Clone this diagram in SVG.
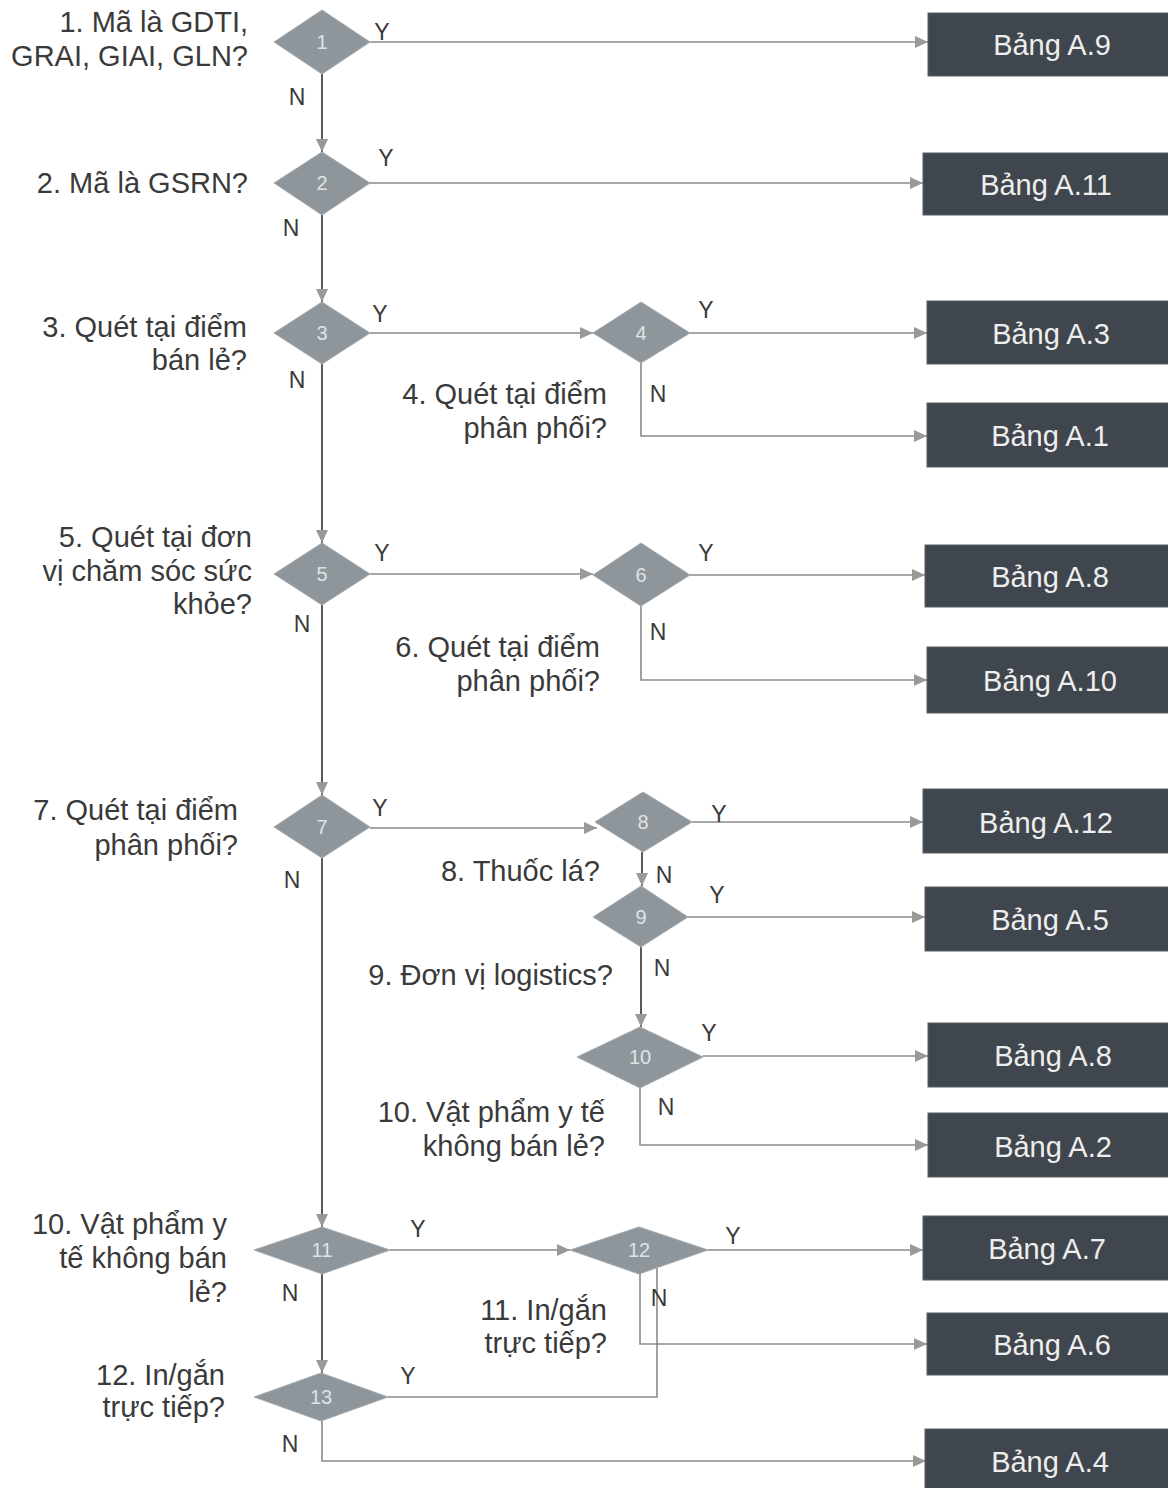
<svg xmlns="http://www.w3.org/2000/svg" width="1168" height="1488" viewBox="0 0 1168 1488">
<style>
.bg{fill:#ffffff}
.dia{fill:#8e969c;stroke:#a3aab0;stroke-width:1}
.num{font-family:"Liberation Sans",Arial,sans-serif;font-size:20px;fill:#dfe3e6;text-anchor:middle}
.box{fill:#40464d;stroke:#5a6066;stroke-width:1}
.bt{font-family:"Liberation Sans",Arial,sans-serif;font-size:29px;fill:#eeeeee;text-anchor:middle}
.lbl{font-family:"Liberation Sans",Arial,sans-serif;font-size:29px;fill:#3a3a3a;text-anchor:end}
.yn{font-family:"Liberation Sans",Arial,sans-serif;font-size:23px;fill:#3a3a3a;text-anchor:middle}
.ln{fill:none;stroke:#8a8a8a;stroke-width:1.6}
.main{fill:none;stroke:#5a5a5a;stroke-width:2}
</style>
<defs>
<marker id="arr" markerUnits="userSpaceOnUse" markerWidth="14" markerHeight="12" refX="13" refY="6" orient="auto">
<path d="M0,0 L13,6 L0,12 Z" fill="#999"/>
</marker>
</defs>
<rect class="bg" x="0" y="0" width="1168" height="1488"/>

<g id="connectors">
<path class="main" d="M322,74 V152" marker-end="url(#arr)"/>
<path class="main" d="M322,215 V302" marker-end="url(#arr)"/>
<path class="main" d="M322,364 V543" marker-end="url(#arr)"/>
<path class="main" d="M322,605 V795" marker-end="url(#arr)"/>
<path class="main" d="M322,858 V1227" marker-end="url(#arr)"/>
<path class="main" d="M322,1274 V1373" marker-end="url(#arr)"/>
<path class="ln" d="M322,1421 V1461 H926" marker-end="url(#arr)"/>
<path class="ln" d="M370,42 H928" marker-end="url(#arr)"/>
<path class="ln" d="M370,183 H923" marker-end="url(#arr)"/>
<path class="ln" d="M370,333 H593" marker-end="url(#arr)"/>
<path class="ln" d="M690,333 H927" marker-end="url(#arr)"/>
<path class="ln" d="M641,363 V436 H927" marker-end="url(#arr)"/>
<path class="ln" d="M370,574 H593" marker-end="url(#arr)"/>
<path class="ln" d="M690,575 H925" marker-end="url(#arr)"/>
<path class="ln" d="M641,605 V680 H927" marker-end="url(#arr)"/>
<path class="ln" d="M370,828 H597" marker-end="url(#arr)"/>
<path class="ln" d="M692,822 H923" marker-end="url(#arr)"/>
<path class="main" d="M642,852 V886" marker-end="url(#arr)"/>
<path class="ln" d="M688,917 H925" marker-end="url(#arr)"/>
<path class="main" d="M641,947 V1027" marker-end="url(#arr)"/>
<path class="ln" d="M703,1056 H928" marker-end="url(#arr)"/>
<path class="ln" d="M640,1088 V1145 H928" marker-end="url(#arr)"/>
<path class="ln" d="M390,1250 H570" marker-end="url(#arr)"/>
<path class="ln" d="M708,1250 H923" marker-end="url(#arr)"/>
<path class="ln" d="M640,1273 V1344 H927" marker-end="url(#arr)"/>
<path class="ln" d="M388,1397 H657 V1268"/>
</g>

<g id="yn-labels">
<text class="yn" x="382" y="40">Y</text>
<text class="yn" x="297" y="105">N</text>
<text class="yn" x="386" y="166">Y</text>
<text class="yn" x="291" y="236">N</text>
<text class="yn" x="380" y="322">Y</text>
<text class="yn" x="297" y="388">N</text>
<text class="yn" x="706" y="318">Y</text>
<text class="yn" x="658" y="402">N</text>
<text class="yn" x="382" y="561">Y</text>
<text class="yn" x="302" y="632">N</text>
<text class="yn" x="706" y="561">Y</text>
<text class="yn" x="658" y="640">N</text>
<text class="yn" x="380" y="816">Y</text>
<text class="yn" x="292" y="888">N</text>
<text class="yn" x="719" y="822">Y</text>
<text class="yn" x="664" y="883">N</text>
<text class="yn" x="717" y="903">Y</text>
<text class="yn" x="662" y="976">N</text>
<text class="yn" x="709" y="1041">Y</text>
<text class="yn" x="666" y="1115">N</text>
<text class="yn" x="418" y="1237">Y</text>
<text class="yn" x="290" y="1301">N</text>
<text class="yn" x="733" y="1244">Y</text>
<text class="yn" x="659" y="1306">N</text>
<text class="yn" x="408" y="1384">Y</text>
<text class="yn" x="290" y="1452">N</text>
</g>

<g id="q1"><polygon class="dia" points="322,10 370,42 322,74 274,42"/><text class="num" x="322" y="49">1</text>
<text class="lbl" x="248" y="32">1. Mã là GDTI,</text><text class="lbl" x="248" y="66">GRAI, GIAI, GLN?</text></g>
<g id="q2"><polygon class="dia" points="322,152 370,183 322,215 274,183"/><text class="num" x="322" y="190">2</text>
<text class="lbl" x="248" y="193">2. Mã là GSRN?</text></g>
<g id="q3"><polygon class="dia" points="322,302 370,333 322,364 274,333"/><text class="num" x="322" y="340">3</text>
<text class="lbl" x="247" y="337">3. Quét tại điểm</text><text class="lbl" x="247" y="370">bán lẻ?</text></g>
<g id="q4"><polygon class="dia" points="641,302 690,333 641,363 593,333"/><text class="num" x="641" y="340">4</text>
<text class="lbl" x="607" y="404">4. Quét tại điểm</text><text class="lbl" x="607" y="438">phân phối?</text></g>
<g id="q5"><polygon class="dia" points="322,543 370,574 322,605 274,574"/><text class="num" x="322" y="581">5</text>
<text class="lbl" x="252" y="547">5. Quét tại đơn</text><text class="lbl" x="252" y="581">vị chăm sóc sức</text><text class="lbl" x="252" y="614">khỏe?</text></g>
<g id="q6"><polygon class="dia" points="641,543 690,575 641,606 593,575"/><text class="num" x="641" y="582">6</text>
<text class="lbl" x="600" y="657">6. Quét tại điểm</text><text class="lbl" x="600" y="691">phân phối?</text></g>
<g id="q7"><polygon class="dia" points="322,795 370,827 322,858 274,827"/><text class="num" x="322" y="834">7</text>
<text class="lbl" x="238" y="820">7. Quét tại điểm</text><text class="lbl" x="238" y="855">phân phối?</text></g>
<g id="q8"><polygon class="dia" points="643,792 692,822 643,852 595,822"/><text class="num" x="643" y="829">8</text>
<text class="lbl" x="600" y="881">8. Thuốc lá?</text></g>
<g id="q9"><polygon class="dia" points="641,886 688,917 641,947 593,917"/><text class="num" x="641" y="924">9</text>
<text class="lbl" x="613" y="985">9. Đơn vị logistics?</text></g>
<g id="q10"><polygon class="dia" points="640,1027 703,1057 640,1088 577,1057"/><text class="num" x="640" y="1064">10</text>
<text class="lbl" x="605" y="1122">10. Vật phẩm y tế</text><text class="lbl" x="605" y="1156">không bán lẻ?</text></g>
<g id="q11"><polygon class="dia" points="322,1227 390,1250 322,1274 254,1250"/><text class="num" x="322" y="1257">11</text>
<text class="lbl" x="227" y="1234">10. Vật phẩm y</text><text class="lbl" x="227" y="1268">tế không bán</text><text class="lbl" x="227" y="1302">lẻ?</text></g>
<g id="q12"><polygon class="dia" points="639,1227 708,1250 639,1274 570,1250"/><text class="num" x="639" y="1257">12</text>
<text class="lbl" x="607" y="1320">11. In/gắn</text><text class="lbl" x="607" y="1353">trực tiếp?</text></g>
<g id="q13"><polygon class="dia" points="321,1373 388,1397 321,1421 254,1397"/><text class="num" x="321" y="1404">13</text>
<text class="lbl" x="225" y="1385">12. In/gắn</text><text class="lbl" x="225" y="1417">trực tiếp?</text></g>

<g id="bA9"><rect class="box" x="928" y="13" width="245" height="63"/><text class="bt" x="1052" y="55">Bảng A.9</text></g>
<g id="bA11"><rect class="box" x="923" y="153" width="250" height="62"/><text class="bt" x="1046" y="195">Bảng A.11</text></g>
<g id="bA3"><rect class="box" x="927" y="301" width="246" height="63"/><text class="bt" x="1051" y="344">Bảng A.3</text></g>
<g id="bA1"><rect class="box" x="927" y="403" width="246" height="64"/><text class="bt" x="1050" y="446">Bảng A.1</text></g>
<g id="bA8a"><rect class="box" x="925" y="545" width="248" height="62"/><text class="bt" x="1050" y="587">Bảng A.8</text></g>
<g id="bA10"><rect class="box" x="927" y="647" width="246" height="66"/><text class="bt" x="1050" y="691">Bảng A.10</text></g>
<g id="bA12"><rect class="box" x="923" y="789" width="250" height="64"/><text class="bt" x="1046" y="833">Bảng A.12</text></g>
<g id="bA5"><rect class="box" x="925" y="887" width="248" height="64"/><text class="bt" x="1050" y="930">Bảng A.5</text></g>
<g id="bA8b"><rect class="box" x="928" y="1023" width="245" height="64"/><text class="bt" x="1053" y="1066">Bảng A.8</text></g>
<g id="bA2"><rect class="box" x="928" y="1113" width="245" height="64"/><text class="bt" x="1053" y="1157">Bảng A.2</text></g>
<g id="bA7"><rect class="box" x="923" y="1216" width="250" height="64"/><text class="bt" x="1047" y="1259">Bảng A.7</text></g>
<g id="bA6"><rect class="box" x="927" y="1313" width="246" height="62"/><text class="bt" x="1052" y="1355">Bảng A.6</text></g>
<g id="bA4"><rect class="box" x="925" y="1429" width="248" height="64"/><text class="bt" x="1050" y="1472">Bảng A.4</text></g>
</svg>
